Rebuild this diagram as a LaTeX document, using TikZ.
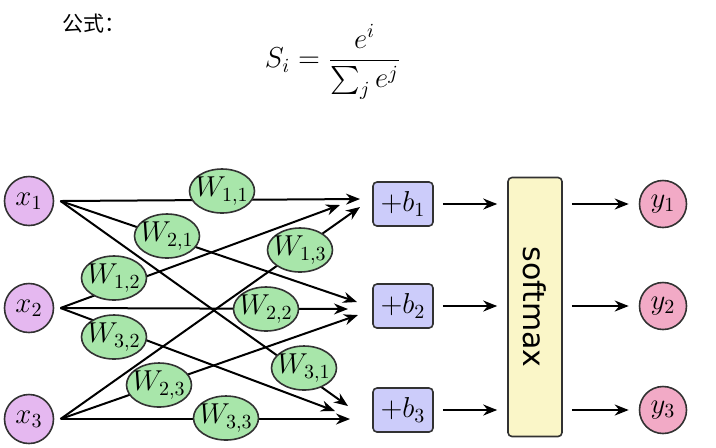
\documentclass[tikz,border=0pt]{standalone}
\usepackage{amsmath,amssymb}
\usepackage{fontspec}
\newfontfamily\cjkfont{Noto Sans CJK SC}
\newfontfamily\smfont{DejaVu Sans}
\usepackage{xcolor}
\definecolor{edgec}{RGB}{50,50,50}
\definecolor{infill}{RGB}{229,184,240}
\definecolor{outfill}{RGB}{242,170,198}
\definecolor{wfill}{RGB}{168,230,170}
\definecolor{bfill}{RGB}{204,204,250}
\definecolor{smfill}{RGB}{250,246,200}
\usepackage{tikz}
\usetikzlibrary{positioning,arrows.meta,shapes.geometric}

\begin{document}
\begin{tikzpicture}[x=0.5pt,y=-0.5pt,
      innode/.style={circle,draw=edgec,line width=0.8pt,fill=infill,minimum size=24.5pt,
                     inner sep=0pt,outer sep=3.5pt,font=\Large},
      outnode/.style={circle,draw=edgec,line width=0.8pt,fill=outfill,minimum size=23.5pt,
                      inner sep=0pt,font=\Large},
      wnode/.style={ellipse,draw=edgec,line width=0.8pt,fill=wfill,minimum width=32.5pt,
                    minimum height=22pt,inner xsep=-2.5pt,inner ysep=0pt,font=\Large},
      bnode/.style={rectangle,rounded corners=2pt,draw=edgec,line width=0.8pt,fill=bfill,
                    minimum width=30pt,minimum height=22pt,inner sep=0pt,font=\Large},
      smnode/.style={rectangle,rounded corners=2pt,draw=edgec,line width=0.8pt,fill=smfill,
                     rotate=-90,minimum width=129.5pt,minimum height=27pt,
                     font=\smfont\fontsize{15}{18}\selectfont},
      wire/.style={line width=1pt,-{Stealth[length=7pt,width=5.5pt]}},
      flow/.style={wire,shorten <=4.5pt,shorten >=5pt}]
    \useasboundingbox (0,0) rectangle (716,447);
    \node (title) at (94,24) {\cjkfont\fontsize{10.5}{12}\selectfont 公式：};
    \node (eq) at (333,62) {\fontsize{14}{17}\selectfont$\displaystyle S_i=\frac{e^i}{\sum_j e^j}$};

    \node[innode] (x1) at (29,201) {$x_1$};
    \node[innode] (x2) at (29,308) {$x_2$};
    \node[innode] (x3) at (29,419) {$x_3$};

    \node[bnode] (b1) at (403,204) {$+b_1$};
    \node[bnode] (b2) at (403,306) {$+b_2$};
    \node[bnode] (b3) at (403,410) {$+b_3$};
    \node[smnode] (sm) at (535,307) {softmax};
    \node[outnode] (y1) at (663,204) {$y_1$};
    \node[outnode] (y2) at (663,306) {$y_2$};
    \node[outnode] (y3) at (663,410) {$y_3$};

    \coordinate (e11) at (360,199);
    \coordinate (e12) at (340,205);
    \coordinate (e13) at (360,207);
    \coordinate (e21) at (357,302);
    \coordinate (e22) at (348,309);
    \coordinate (e23) at (358,315);
    \coordinate (e31) at (348,406);
    \coordinate (e32) at (335,411);
    \coordinate (e33) at (350,419);

    \draw[wire] (x1.east) -- (e11);
    \draw[wire] (x1.east) -- (e21);
    \draw[wire] (x1.east) -- (e31);
    \draw[wire] (x2.east) -- (e12);
    \draw[wire] (x2.east) -- (e22);
    \draw[wire] (x2.east) -- (e32);
    \draw[wire] (x3.east) -- (e13);
    \draw[wire] (x3.east) -- (e23);
    \draw[wire] (x3.east) -- (e33);

    \node[wnode] (w11) at (222,191) {$W_{1,1}$};
    \node[wnode] (w21) at (167,236) {$W_{2,1}$};
    \node[wnode] (w12) at (114,278) {$W_{1,2}$};
    \node[wnode] (w13) at (300,250) {$W_{1,3}$};
    \node[wnode] (w22) at (266,309) {$W_{2,2}$};
    \node[wnode] (w32) at (114,337) {$W_{3,2}$};
    \node[wnode] (w31) at (304,368) {$W_{3,1}$};
    \node[wnode] (w23) at (159,385) {$W_{2,3}$};
    \node[wnode] (w33) at (226,418) {$W_{3,3}$};

    \draw[flow] (b1) -- (b1 -| sm.south);
    \draw[flow] (b2) -- (b2 -| sm.south);
    \draw[flow] (b3) -- (b3 -| sm.south);
    \draw[flow] (y1 -| sm.north) -- (y1);
    \draw[flow] (y2 -| sm.north) -- (y2);
    \draw[flow] (y3 -| sm.north) -- (y3);
  \end{tikzpicture}
\end{document}
